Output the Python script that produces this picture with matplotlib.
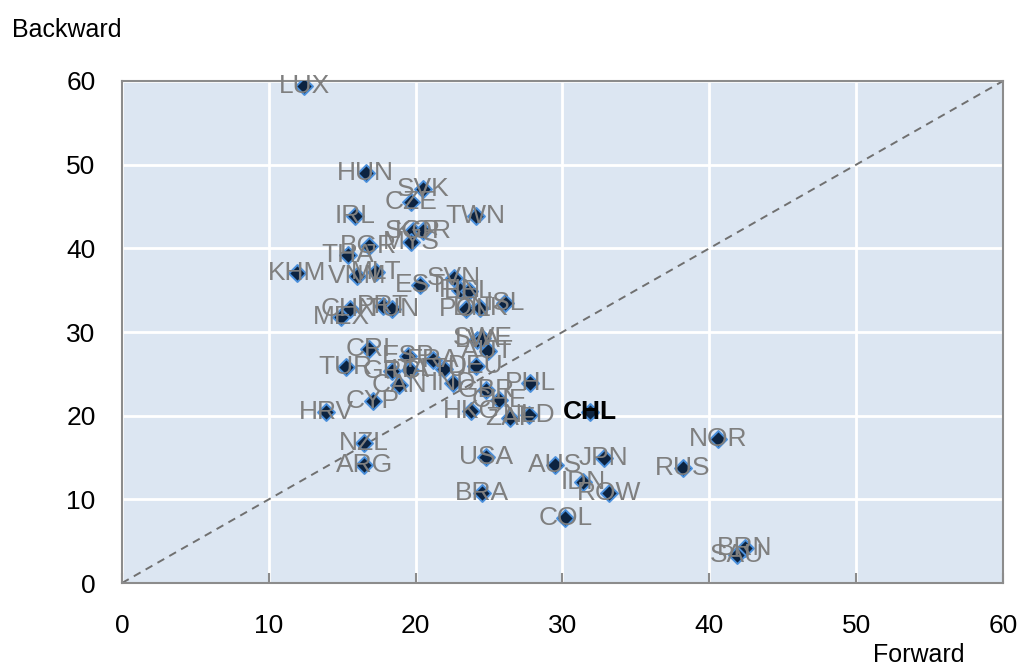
import numpy as np
import matplotlib.pyplot as plt

plt.rcParams['font.family'] = ['Liberation Sans', 'DejaVu Sans']

# forward / backward participation
countries = ['LUX', 'HUN', 'SVK', 'CZE', 'IRL', 'TWN', 'SGP', 'KOR', 'MYS', 'BGR',
             'THA', 'KHM', 'VNM', 'MLT', 'EST', 'SVN', 'FIN', 'BEL', 'POL', 'DNK',
             'ISL', 'MEX', 'CHN', 'PRT', 'TUN', 'LVA', 'SWE', 'AUT', 'CRI', 'TUR',
             'ESP', 'FRA', 'GRC', 'CAN', 'ITA', 'DEU', 'IND', 'LTU', 'GBR', 'PHL',
             'CHE', 'HKG', 'ZAF', 'NLD', 'CYP', 'HRV', 'NZL', 'ARG', 'USA', 'BRA',
             'AUS', 'JPN', 'IDN', 'ROW', 'COL', 'CHL', 'RUS', 'NOR', 'BRN', 'SAU']
forward = [12.4, 16.6, 20.5, 19.7, 15.9, 24.1, 19.8, 20.5, 19.7, 16.8,
           15.4, 11.9, 16.0, 17.3, 20.3, 22.6, 23.0, 23.6, 23.4, 24.4,
           26.1, 14.95, 15.5, 17.8, 18.4, 24.2, 24.55, 24.9, 16.8, 15.25,
           19.5, 21.2, 18.4, 18.9, 19.6, 24.1, 22.55, 21.9, 24.8, 27.8,
           25.7, 23.8, 26.4, 27.7, 17.1, 13.9, 16.5, 16.5, 24.8, 24.5,
           29.5, 32.8, 31.4, 33.2, 30.2, 31.9, 38.2, 40.6, 42.4, 41.9]
backward = [59.4, 49.0, 47.1, 45.5, 43.9, 43.9, 42.1, 42.1, 40.7, 40.3,
            39.2, 37.0, 36.7, 37.2, 35.6, 36.5, 35.0, 34.9, 32.7, 32.9,
            33.5, 31.8, 32.7, 33.1, 32.7, 29.0, 29.3, 27.7, 28.0, 25.8,
            27.1, 26.6, 25.3, 23.7, 25.5, 25.9, 23.9, 25.6, 23.1, 23.9,
            21.9, 20.5, 19.7, 20.1, 21.8, 20.4, 16.7, 14.1, 15.1, 10.7,
            14.1, 14.9, 12.1, 10.7, 7.75, 20.4, 13.7, 17.2, 4.2, 3.4]
highlight = 'CHL'

fig = plt.figure(figsize=(10.19, 6.66), dpi=100)
ax = fig.add_axes([0.1197, 0.1246, 0.8646, 0.7538])
ax.set_facecolor('#dce6f2')

ax.plot([0, 60], [0, 60], color='#707070', linestyle=(0, (4, 3)), linewidth=1.4, zorder=2)
ax.scatter(forward, backward, marker='D', s=75, color='#0c2340',
           edgecolor='#4a8fdb', linewidth=1.4, zorder=3)

for c, x, y in zip(countries, forward, backward):
    if c == highlight:
        ax.text(x, y, c, fontsize=19, color='black', fontweight='bold',
                ha='center', va='center', zorder=4)
    else:
        ax.text(x, y, c, fontsize=19, color='#7f7f7f', ha='center', va='center', zorder=4)

ax.set_xlim(0, 60)
ax.set_ylim(0, 60)
ax.set_xticks(np.arange(0, 61, 10))
ax.set_yticks(np.arange(0, 61, 10))
ax.grid(True, color='white', linewidth=2)
ax.set_axisbelow(True)
for s in ax.spines.values():
    s.set_color('#8c8c8c')
    s.set_linewidth(1.5)
ax.tick_params(axis='x', direction='in', length=7, width=1.5, color='#8c8c8c',
               labelsize=19, pad=22)
ax.tick_params(axis='y', length=0, labelsize=19, pad=19)

fig.text(0.012, 0.955, 'Backward', fontsize=18, ha='left', va='center')
fig.text(0.947, 0.017, 'Forward', fontsize=18, ha='right', va='center')

fig.savefig('out.png', dpi=100)
